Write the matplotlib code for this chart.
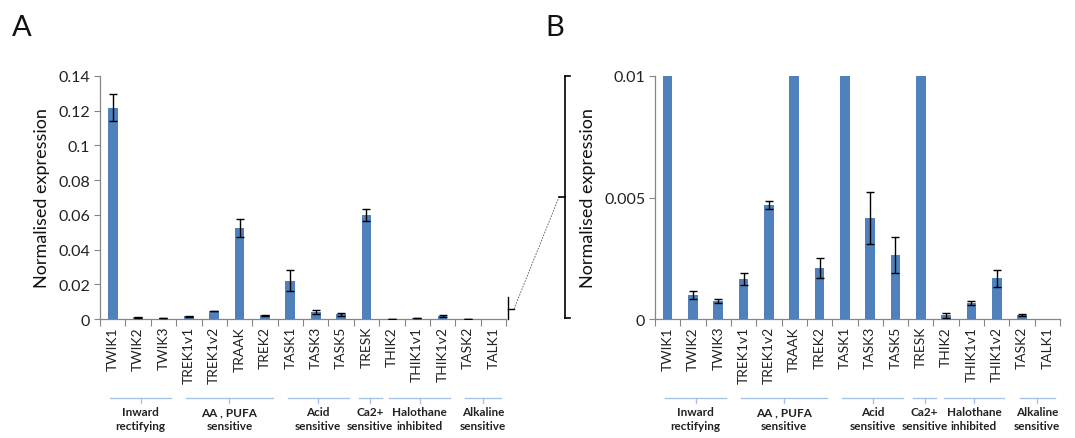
import matplotlib
matplotlib.use("Agg")
import matplotlib.pyplot as plt
from matplotlib.lines import Line2D
import numpy as np

genes = ["TWIK1", "TWIK2", "TWIK3", "TREK1v1", "TREK1v2", "TRAAK", "TREK2",
         "TASK1", "TASK3", "TASK5", "TRESK", "THIK2", "THIK1v1", "THIK1v2",
         "TASK2", "TALK1"]
values = [0.1218, 0.00099, 0.00075, 0.00164, 0.00468, 0.0524, 0.0021,
          0.0221, 0.00414, 0.00263, 0.0600, 0.00016, 0.00066, 0.00167,
          0.00016, 0.0]
errors = [0.0080, 0.00018, 0.00008, 0.00026, 0.00017, 0.0052, 0.00042,
          0.0059, 0.00107, 0.00073, 0.0036, 0.00010, 0.00009, 0.00035,
          0.00005, 0.0]
groups = ["Inward\nrectifying", "AA , PUFA\nsensitive", "Acid\nsensitive",
          "Ca2+\nsensitive", "Halothane\ninhibited", "Alkaline\nsensitive"]
group_members = [(0, 2), (3, 6), (7, 9), (10, 10), (11, 13), (14, 15)]

yticks_a = [0, 0.02, 0.04, 0.06, 0.08, 0.1, 0.12, 0.14]
yticklabels_a = ["0", "0.02", "0.04", "0.06", "0.08", "0.1", "0.12", "0.14"]
yticks_b = [0, 0.005, 0.01]
yticklabels_b = ["0", "0.005", "0.01"]

plt.rcParams['font.family'] = ['Lato', 'DejaVu Sans']

W, H = 1075, 439
fig = plt.figure(figsize=(W / 100, H / 100), dpi=100)

def fx(px):
    return px / W

def fy(py):
    return 1 - py / H

BAR = "#4F81BD"
AXC = "#868686"
GRP = "#A7C4E5"

def setup(ax, ylim, yt, ytl):
    x = np.arange(len(genes))
    ax.bar(x, values, width=0.38, color=BAR, zorder=2)
    v = np.array(values)
    e = np.array(errors)
    m = e > 0
    ax.errorbar(x[m], v[m], yerr=e[m], fmt="none", ecolor="black",
                elinewidth=1.0, capsize=3, capthick=1.0, zorder=3)
    ax.set_xlim(-0.5, len(genes) - 0.5)
    ax.set_ylim(*ylim)
    ax.set_yticks(yt)
    ax.set_yticklabels(ytl, fontsize=11.5, color="#222222")
    ax.set_xticks(np.arange(len(genes) + 1) - 0.5)
    ax.set_xticklabels([])
    ax.set_xticks(x, minor=True)
    ax.set_xticklabels(genes, minor=True, rotation=90, fontsize=10,
                       color="#222222")
    ax.tick_params(axis="x", which="major", length=5, color=AXC, width=0.8)
    ax.tick_params(axis="x", which="minor", length=0, pad=5)
    ax.tick_params(axis="y", length=4, color=AXC, width=0.8, pad=3)
    for s in ("top", "right"):
        ax.spines[s].set_visible(False)
    for s in ("left", "bottom"):
        ax.spines[s].set_color(AXC)
        ax.spines[s].set_linewidth(0.9)
    ax.set_ylabel("Normalised expression", fontsize=13, color="#111111",
                  labelpad=6)
    # group annotations
    for name, (a, b) in zip(groups, group_members):
        if a == b:
            x0, x1 = a - 0.3, a + 0.6
        else:
            x0, x1 = a - 0.1, b + 0.3
        xm = (x0 + x1) / 2
        tr = ax.get_xaxis_transform()
        ax.add_line(Line2D([x0, x1], [-0.325, -0.325], transform=tr,
                           color=GRP, lw=1.0, clip_on=False))
        ax.add_line(Line2D([xm, xm], [-0.325, -0.345], transform=tr,
                           color=GRP, lw=1.0, clip_on=False))
        ax.text(xm, -0.36, name, transform=tr, ha="center", va="top",
                fontsize=8.5, fontweight="bold", color="#222222",
                linespacing=1.3)

axA = fig.add_axes([fx(100), fy(320), fx(506) - fx(100), fy(77) - fy(320)])
setup(axA, (0, 0.14), yticks_a, yticklabels_a)
axB = fig.add_axes([fx(655), fy(320), fx(1060) - fx(655), fy(77) - fy(320)])
setup(axB, (0, 0.01), yticks_b, yticklabels_b)

fig.text(fx(12), fy(36), "A", fontsize=21, color="#111111")
fig.text(fx(545), fy(36), "B", fontsize=21, color="#111111")

def fline(xs, ys, **kw):
    fig.add_artist(Line2D([fx(v) for v in xs], [fy(v) for v in ys],
                          transform=fig.transFigure, **kw))

# small bracket in A
fline([508, 508], [298, 320], color="black", lw=1.0)
fline([508, 514], [310, 310], color="black", lw=1.0)
# dashed connector
fline([514, 559], [310, 198], color="#555555", lw=0.6, ls=(0, (2, 1.5)))
# big bracket in B
fline([565, 565], [77, 319], color="black", lw=1.2)
fline([565, 570], [77, 77], color="black", lw=1.2)
fline([565, 570], [319, 319], color="black", lw=1.2)
fline([559, 565], [198, 198], color="black", lw=1.2)

fig.savefig("out.png", dpi=100)
